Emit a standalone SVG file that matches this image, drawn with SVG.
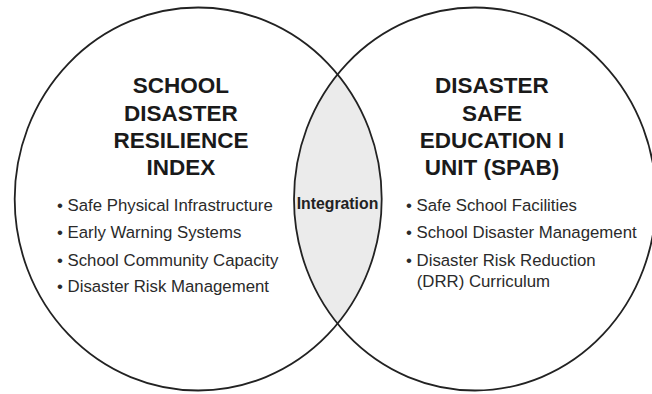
<svg xmlns="http://www.w3.org/2000/svg" width="652" height="394" viewBox="0 0 652 394">
  <style>
    .ring { fill: none; stroke: #222; stroke-width: 1.8; }
    .lens { fill: #ebebeb; }
    .title { font-family: "Liberation Sans", Arial, sans-serif; font-weight: bold; font-size: 22.5px; fill: #1a1a1a; text-anchor: middle; }
    .item { font-family: "Liberation Sans", Arial, sans-serif; font-size: 16.8px; fill: #2a2a2a; }
    .mid { font-family: "Liberation Sans", Arial, sans-serif; font-weight: bold; font-size: 15.8px; fill: #222; text-anchor: middle; }
  </style>
  <defs>
    <clipPath id="leftClip">
      <ellipse cx="198.2" cy="199" rx="183.5" ry="191.5"/>
    </clipPath>
  </defs>
  <rect width="652" height="394" fill="#ffffff"/>

  <g id="intersection">
    <ellipse class="lens" cx="475" cy="199" rx="181" ry="191.5" clip-path="url(#leftClip)"/>
    <text class="mid" x="337.5" y="209">Integration</text>
  </g>

  <g id="left-circle">
    <ellipse class="ring" cx="198.2" cy="199" rx="183.5" ry="191.5"/>
    <text class="title" x="181" y="92.7">SCHOOL</text>
    <text class="title" x="181" y="120.5">DISASTER</text>
    <text class="title" x="181" y="148.2">RESILIENCE</text>
    <text class="title" x="181" y="175">INDEX</text>
    <text class="item" x="57" y="211.3">• Safe Physical Infrastructure</text>
    <text class="item" x="57" y="238.3">• Early Warning Systems</text>
    <text class="item" x="57" y="265.5">• School Community Capacity</text>
    <text class="item" x="57" y="291.7">• Disaster Risk Management</text>
  </g>

  <g id="right-circle">
    <ellipse class="ring" cx="475" cy="199" rx="181" ry="191.5"/>
    <text class="title" x="492" y="92.7">DISASTER</text>
    <text class="title" x="492" y="120.5">SAFE</text>
    <text class="title" x="492" y="148.2">EDUCATION I</text>
    <text class="title" x="492" y="175">UNIT (SPAB)</text>
    <text class="item" x="406" y="211.3">• Safe School Facilities</text>
    <text class="item" x="406" y="238.3">• School Disaster Management</text>
    <text class="item" x="406" y="265.5">• Disaster Risk Reduction</text>
    <text class="item" x="416.7" y="286.7">(DRR) Curriculum</text>
  </g>

  <g id="connectors"/>
</svg>
